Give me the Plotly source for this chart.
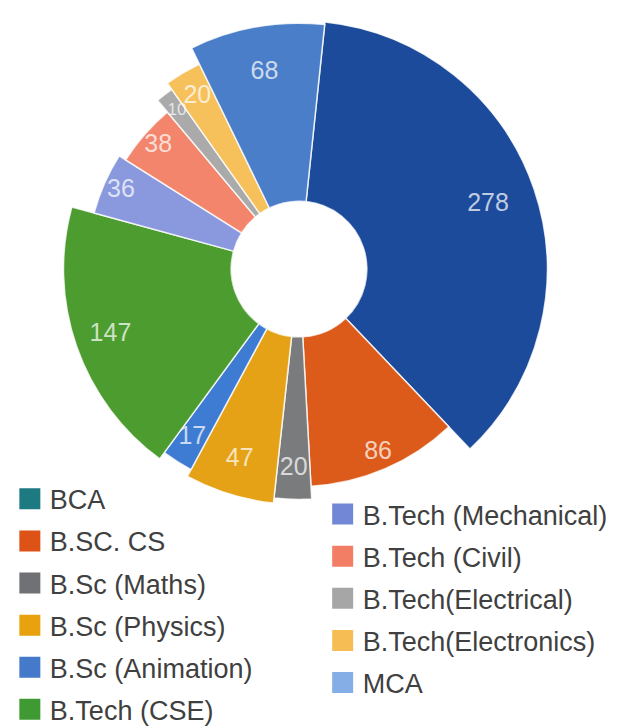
import plotly.graph_objects as go

# ---- data ----
programs = ["BCA", "B.SC. CS", "B.Sc (Maths)", "B.Sc (Physics)", "B.Sc (Animation)",
            "B.Tech (CSE)", "B.Tech (Mechanical)", "B.Tech (Civil)",
            "B.Tech(Electrical)", "B.Tech(Electronics)", "MCA"]
students = [278, 86, 20, 47, 17, 147, 36, 38, 10, 20, 68]
# relative outer radius of each slice (variable-radius donut)
outer_radius = [0.97, 0.85, 0.90, 0.92, 0.89, 0.92, 0.83, 0.80, 0.86, 0.89, 0.96]

slice_colors = ["#1d4b9b", "#dc5b1a", "#7a7b7c", "#e6a216", "#3e7bd2", "#4d9c30",
                "#8a99dd", "#f2856b", "#a9aaa9", "#f6c05a", "#4b7ec8"]
legend_colors = ["#1d7a80", "#dc5217", "#6f7174", "#e8a20e", "#4579c9", "#3f9a34",
                 "#7288d6", "#f27e66", "#a6a6a6", "#f6bd55", "#86aee6"]

# ---- styling ----
HOLE = 0.265
START = 6.0  # degrees clockwise from 12 o'clock
FONT = "Liberation Sans, Arial, sans-serif"

total = sum(students)
widths = [v / total * 360.0 for v in students]
thetas = []
acc = START
for w in widths:
    thetas.append(acc + w / 2.0)
    acc += w
label_r = [min(0.78, v - 0.07) for v in outer_radius]
label_size = [25 if w > 6 else 17 for w in widths]

fig = go.Figure()
fig.add_trace(go.Barpolar(
    theta=thetas, width=widths,
    r=[v - HOLE for v in outer_radius], base=HOLE,
    marker=dict(color=slice_colors, line=dict(color="rgba(255,255,255,0.8)", width=1.5)),
    showlegend=False, hoverinfo="skip",
))
fig.add_trace(go.Scatterpolar(
    theta=thetas, r=label_r, mode="text",
    text=[str(v) for v in students],
    textfont=dict(size=label_size, color="rgba(255,255,255,0.72)", family=FONT),
    showlegend=False, hoverinfo="skip",
))
for i, (name, c) in enumerate(zip(programs, legend_colors)):
    fig.add_trace(go.Scatterpolar(
        r=[None], theta=[None], mode="markers", name=name,
        marker=dict(symbol="square", size=16, color=c, line=dict(color=c, width=5)),
        legend="legend" if i < 6 else "legend2", legendgroup=name,
    ))

legend_common = dict(
    font=dict(size=27, color="#404040", family=FONT),
    bgcolor="rgba(0,0,0,0)", tracegroupgap=4, itemsizing="trace",
    xanchor="left", yanchor="top", orientation="v",
)
fig.update_layout(
    width=617, height=726,
    margin=dict(l=0, r=0, t=0, b=0, autoexpand=False),
    paper_bgcolor="white", plot_bgcolor="white",
    polar=dict(
        domain=dict(x=[0.0567, 0.8866], y=[0.2879, 0.9931]),
        hole=HOLE, bgcolor="white",
        angularaxis=dict(visible=False, direction="clockwise", rotation=90,
                         showgrid=False, showline=False, ticks=""),
        radialaxis=dict(visible=False, range=[HOLE, 1.0], showgrid=False, showline=False),
    ),
    legend=dict(x=0.003, y=0.357, **legend_common),
    legend2=dict(x=0.51, y=0.336, **legend_common),
    showlegend=True,
)

fig.write_html("out.html")
